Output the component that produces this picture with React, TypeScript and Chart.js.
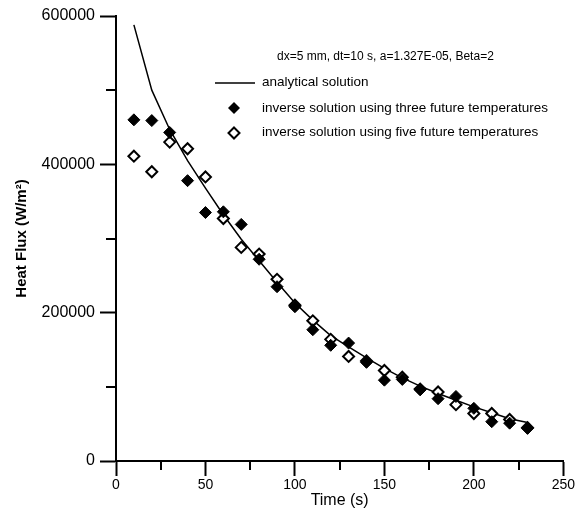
import React, { useEffect, useRef } from "react";
import { Chart, registerables } from "chart.js";

Chart.register(...registerables);

const times = [10, 20, 30, 40, 50, 60, 70, 80, 90, 100, 110, 120, 130, 140, 150, 160, 170, 180, 190, 200, 210, 220, 230];
const analytical = [588000, 500000, 447000, 405000, 368000, 332000, 299000, 270000, 241000, 213000, 190000, 169000, 154000, 139000, 125000, 112000, 101000, 91000, 82000, 73000, 65000, 57000, 52000];
const threeFuture = [460000, 459000, 443000, 378000, 335000, 336000, 319000, 272000, 235000, 208000, 177000, 156000, 159000, 133000, 109000, 110000, 96000, 84000, 87000, 71000, 53000, 51000, 44000];
const fiveFuture = [411000, 390000, 430000, 421000, 383000, 327000, 288000, 279000, 245000, 210000, 189000, 164000, 141000, 135000, 122000, 113000, 97000, 93000, 76000, 64000, 64000, 56000, 45000];

const xMajorTicks = [0, 50, 100, 150, 200, 250];
const xMinorTicks = [25, 75, 125, 175, 225];
const yMajorTicks = [0, 200000, 400000, 600000];
const yMinorTicks = [100000, 300000, 500000];

const headerText = "dx=5 mm, dt=10 s, a=1.327E-05, Beta=2";
const legendLabels = [
  "analytical solution",
  "inverse solution using three future temperatures",
  "inverse solution using five future temperatures",
];

const FONT = "'Liberation Sans', Arial, sans-serif";

const toPoints = (vals: number[]) => vals.map((v, i) => ({ x: times[i], y: v }));

const decorPlugin = {
  id: "decor",
  afterDraw(chart: any) {
    const ctx = chart.ctx;
    const xs = chart.scales.x;
    const ys = chart.scales.y;
    const area = chart.chartArea;
    ctx.save();
    ctx.strokeStyle = "#000";
    ctx.lineWidth = 2;
    // minor ticks
    xMinorTicks.forEach((t) => {
      const px = Math.round(xs.getPixelForValue(t));
      ctx.beginPath();
      ctx.moveTo(px, area.bottom);
      ctx.lineTo(px, area.bottom + 9);
      ctx.stroke();
    });
    yMinorTicks.forEach((t) => {
      const py = Math.round(ys.getPixelForValue(t));
      ctx.beginPath();
      ctx.moveTo(area.left, py);
      ctx.lineTo(area.left - 10, py);
      ctx.stroke();
    });
    // legend
    ctx.fillStyle = "#000";
    ctx.font = `12px ${FONT}`;
    ctx.textAlign = "left";
    ctx.textBaseline = "middle";
    ctx.fillText(headerText, 277, 57);
    ctx.font = `13.5px ${FONT}`;
    ctx.lineWidth = 1.5;
    ctx.beginPath();
    ctx.moveTo(215, 83);
    ctx.lineTo(255, 83);
    ctx.stroke();
    ctx.fillText(legendLabels[0], 262, 82);
    // filled diamond
    const r = 6;
    ctx.beginPath();
    ctx.moveTo(234, 108 - r);
    ctx.lineTo(234 + r, 108);
    ctx.lineTo(234, 108 + r);
    ctx.lineTo(234 - r, 108);
    ctx.closePath();
    ctx.fill();
    ctx.fillText(legendLabels[1], 262, 108);
    // open diamond
    ctx.lineWidth = 2;
    const r2 = 5.5;
    ctx.beginPath();
    ctx.moveTo(234, 133 - r2);
    ctx.lineTo(234 + r2, 133);
    ctx.lineTo(234, 133 + r2);
    ctx.lineTo(234 - r2, 133);
    ctx.closePath();
    ctx.fillStyle = "#fff";
    ctx.fill();
    ctx.stroke();
    ctx.fillStyle = "#000";
    ctx.fillText(legendLabels[2], 262, 132);
    ctx.restore();
  },
};

export default function App() {
  const canvasRef = useRef<HTMLCanvasElement | null>(null);

  useEffect(() => {
    document.body.style.margin = "0";
    const canvas = canvasRef.current;
    if (!canvas) return;
    const chart = new Chart(canvas, {
      type: "scatter",
      data: {
        datasets: [
          {
            label: legendLabels[1],
            data: toPoints(threeFuture),
            pointStyle: "rectRot",
            pointRadius: 6,
            backgroundColor: "#000",
            borderColor: "#000",
            borderWidth: 1,
            order: 0,
          },
          {
            label: legendLabels[2],
            data: toPoints(fiveFuture),
            pointStyle: "rectRot",
            pointRadius: 5.5,
            backgroundColor: "#fff",
            borderColor: "#000",
            borderWidth: 2,
            order: 1,
          },
          {
            type: "line",
            label: legendLabels[0],
            data: toPoints(analytical),
            borderColor: "#000",
            borderWidth: 1.5,
            pointRadius: 0,
            tension: 0,
            fill: false,
            order: 2,
          } as any,
        ],
      },
      options: {
        responsive: false,
        animation: false,
        devicePixelRatio: 1,
        layout: { padding: { top: 16, right: 11, left: 0, bottom: 0 }, autoPadding: false },
        plugins: { legend: { display: false }, tooltip: { enabled: false } },
        scales: {
          x: {
            type: "linear",
            min: 0,
            max: 250,
            afterFit: (s: any) => {
              s.height = 56;
            },
            afterBuildTicks: (s: any) => {
              s.ticks = xMajorTicks.map((v) => ({ value: v }));
            },
            ticks: {
              color: "#000",
              font: { family: FONT, size: 14 },
              padding: 1,
              maxRotation: 0,
              callback: (v: any) => String(v),
            },
            grid: {
              drawOnChartArea: false,
              drawTicks: true,
              tickLength: 15,
              tickWidth: 2,
              tickColor: "#000",
            },
            border: { display: true, color: "#000", width: 2 },
            title: {
              display: true,
              text: "Time (s)",
              color: "#000",
              font: { family: FONT, size: 16 },
              padding: { top: 0, bottom: 7 },
            },
          },
          y: {
            type: "linear",
            min: 0,
            max: 600000,
            afterFit: (s: any) => {
              s.width = 116;
            },
            afterBuildTicks: (s: any) => {
              s.ticks = yMajorTicks.map((v) => ({ value: v }));
            },
            ticks: {
              color: "#000",
              font: { family: FONT, size: 16 },
              padding: 5,
              callback: (v: any) => String(v),
            },
            grid: {
              drawOnChartArea: false,
              drawTicks: true,
              tickLength: 16,
              tickWidth: 2,
              tickColor: "#000",
            },
            border: { display: true, color: "#000", width: 2 },
            title: {
              display: true,
              text: "Heat Flux (W/m²)",
              color: "#000",
              font: { family: FONT, size: 15, weight: "bold" },
              padding: { top: 13, bottom: 0 },
            },
          },
        },
      },
      plugins: [decorPlugin],
    });
    return () => chart.destroy();
  }, []);

  return (
    <div style={{ width: 576, height: 517, background: "#fff" }}>
      <canvas ref={canvasRef} width={576} height={517} style={{ display: "block" }} />
    </div>
  );
}
